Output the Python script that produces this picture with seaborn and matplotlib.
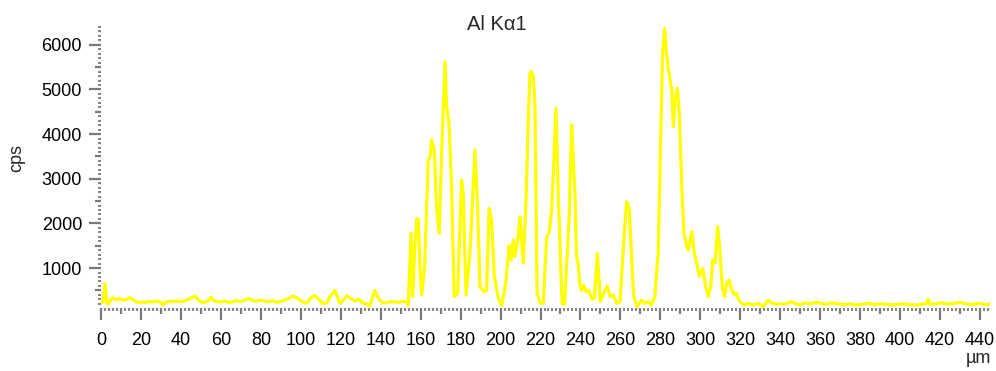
import matplotlib
matplotlib.use("Agg")
import matplotlib.pyplot as plt
from matplotlib.ticker import MultipleLocator, FuncFormatter
import pandas as pd
import seaborn as sns

# Line scan of the Al Kα1 signal: position along the scan (µm) and count rate (cps)
position_um = [
    0, 1, 2, 3, 4, 5, 6, 7, 8, 9, 10, 12, 14, 15, 16, 18, 20, 22, 24, 26, 28,
    30, 31, 32, 34, 36, 38, 40, 42, 44, 46, 47, 48, 50, 52, 54, 55, 56, 58, 60,
    62, 64, 66, 68, 70, 72, 74, 76, 78, 80, 82, 84, 86, 88, 90, 92, 94, 96, 98,
    100, 102, 103, 105, 107, 109, 111, 113, 115, 117, 118, 119.5, 121, 123, 125,
    127, 129, 131, 133, 134.5, 136, 137, 138, 139.5, 141, 143, 145, 147, 149,
    151, 153, 153.8, 155.2, 156, 157, 158, 158.8, 159.7, 160.5, 162, 163.8,
    164.7, 165.5, 166.8, 168, 169.3, 170.5, 172.2, 173, 174.2, 175.5, 176.8,
    178.5, 180.5, 181.3, 182.7, 184.7, 185.8, 187.2, 188.5, 189.7, 191.9, 193,
    194.3, 195.5, 196.9, 198.9, 200.6, 202.6, 204.3, 205.2, 206.4, 207.2, 208.6,
    209.7, 211.4, 212.8, 213.9, 214.7, 215.5, 216.4, 217.2, 218.3, 219.8, 221.4,
    223.1, 224.3, 225.6, 226.6, 227.7, 229, 230.8, 232, 233.1, 234.3, 235.6,
    236.4, 237.3, 238, 239, 239.8, 240.6, 241.6, 242.8, 244.1, 245.8, 247,
    248.5, 249.9, 251.6, 253.4, 254.9, 256.5, 258.1, 259.8, 261.5, 263.1, 264.4,
    265.5, 266.7, 268.3, 270.5, 272.2, 273.9, 275.5, 277.2, 278.9, 280, 281.1,
    282.1, 283.2, 284.5, 285.7, 286.5, 287.3, 288.5, 289.5, 290.7, 291.8, 293.2,
    294, 295.7, 297, 298.2, 299.5, 301.2, 302.7, 304, 305.2, 306.2, 307.4, 308.7,
    309.9, 311, 312.1, 313.2, 314.4, 315.7, 317, 318.1, 319.3, 320.7, 322.3, 324,
    326.5, 329, 331.5, 334, 336, 338, 340, 342, 343.5, 345.7, 348, 350, 352, 355,
    358, 360, 363, 366, 369, 372, 375, 378, 381, 384, 387, 390, 393, 396, 399,
    402, 405, 408, 411, 413, 414, 415, 418, 421, 424, 427, 430, 433, 436, 439,
    442, 444, 445.5,
]
counts_cps = [
    250, 230, 650, 200, 210, 300, 330, 310, 280, 320, 300, 280, 330, 330, 290,
    230, 240, 230, 250, 240, 260, 230, 170, 220, 260, 250, 260, 250, 270, 300,
    350, 370, 320, 240, 230, 280, 350, 280, 250, 240, 260, 230, 250, 270, 250,
    280, 320, 270, 260, 280, 260, 250, 270, 230, 250, 280, 320, 370, 340, 260,
    220, 210, 330, 390, 300, 210, 220, 380, 500, 400, 210, 260, 380, 320, 260,
    300, 220, 200, 150, 350, 500, 400, 280, 220, 220, 250, 240, 230, 260, 240,
    170, 1780, 360, 1400, 2110, 2080, 1000, 400, 1030, 3420, 3500, 3870, 3650,
    2380, 1780, 3570, 5620, 4620, 4240, 2820, 360, 430, 2970, 2670, 400, 1330,
    2340, 3650, 2380, 580, 470, 500, 2340, 2080, 810, 320, 170, 660, 1500, 1180,
    1630, 1260, 1630, 2150, 1110, 2600, 4320, 5360, 5400, 5290, 4700, 430, 220,
    210, 1700, 1780, 2330, 3300, 4580, 2500, 210, 190, 1100, 2080, 4210, 3420,
    2600, 1300, 1030, 580, 500, 620, 470, 500, 300, 330, 1330, 250, 430, 600,
    360, 390, 210, 245, 1480, 2490, 2340, 1330, 360, 135, 280, 210, 245, 170,
    360, 1330, 3570, 5810, 6370, 5750, 5300, 4990, 4170, 4770, 5030, 4470, 2820,
    1780, 1480, 1400, 1815, 1330, 1110, 810, 990, 580, 360, 580, 1180, 1110,
    1930, 1330, 580, 360, 660, 730, 510, 400, 430, 280, 210, 170, 210, 170, 210,
    135, 280, 210, 190, 200, 190, 210, 245, 190, 180, 220, 200, 230, 210, 190,
    220, 200, 180, 200, 170, 190, 210, 180, 200, 190, 170, 190, 200, 180, 170,
    190, 200, 300, 190, 200, 220, 190, 210, 230, 200, 180, 210, 190, 170, 230,
]

sns.set_style("white")
plt.rcParams["font.family"] = ["Liberation Sans", "DejaVu Sans"]

fig = plt.figure(figsize=(9.96, 3.71), dpi=100)
ax = fig.add_axes([101 / 996, 1 - 308 / 371, (990 - 101) / 996, (308 - 27) / 371])

scan = pd.DataFrame({"position": position_um, "cps": counts_cps})
sns.lineplot(data=scan, x="position", y="cps", ax=ax, color="#ffff00",
             linewidth=2.3, estimator=None, sort=False)

ax.set_xlim(0, 445)
ax.set_ylim(105, 6400)
for spine in ax.spines.values():
    spine.set_visible(False)
ax.set_xlabel("")
ax.set_ylabel("")

# three tick levels: labelled, half-step and fine
ax.xaxis.set_major_locator(MultipleLocator(10))
ax.xaxis.set_minor_locator(MultipleLocator(2))
ax.xaxis.set_major_formatter(FuncFormatter(lambda v, p: f"{v:.0f}" if round(v) % 20 == 0 else ""))
ax.yaxis.set_major_locator(MultipleLocator(500))
ax.yaxis.set_minor_locator(MultipleLocator(100))
ax.yaxis.set_major_formatter(FuncFormatter(lambda v, p: f"{v:.0f}" if round(v) % 1000 == 0 else ""))

tick_grey = "#7a7a7a"
ax.tick_params(axis="both", which="major", direction="out", length=8.6, width=1.6,
               color=tick_grey, labelsize=13, labelcolor="black")
ax.tick_params(axis="both", which="minor", direction="out", length=2.4, width=1.3,
               color=tick_grey)
ax.tick_params(axis="x", which="major", pad=8.5)
ax.tick_params(axis="y", which="major", pad=5)
ax.tick_params(left=True, bottom=True, which="both")

fig.canvas.draw()
xlocs = ax.xaxis.get_majorticklocs()
for tick, loc in zip(ax.xaxis.get_major_ticks(len(xlocs)), xlocs):
    if round(loc) % 20:
        tick.tick1line.set_markersize(4.0)
ylocs = ax.yaxis.get_majorticklocs()
for tick, loc in zip(ax.yaxis.get_major_ticks(len(ylocs)), ylocs):
    if round(loc) % 1000:
        tick.tick1line.set_markersize(4.0)

fig.text(497 / 996, 1 - 29.5 / 371, "Al Kα1", ha="center", va="baseline", fontsize=14.5)
fig.text(17 / 996, 1 - 158 / 371, "cps", ha="center", va="center", rotation=90, fontsize=13)
fig.text(978 / 996, 1 - 363 / 371, "µm", ha="center", va="baseline", fontsize=13)

fig.savefig("out.png", dpi=100, facecolor="white")
